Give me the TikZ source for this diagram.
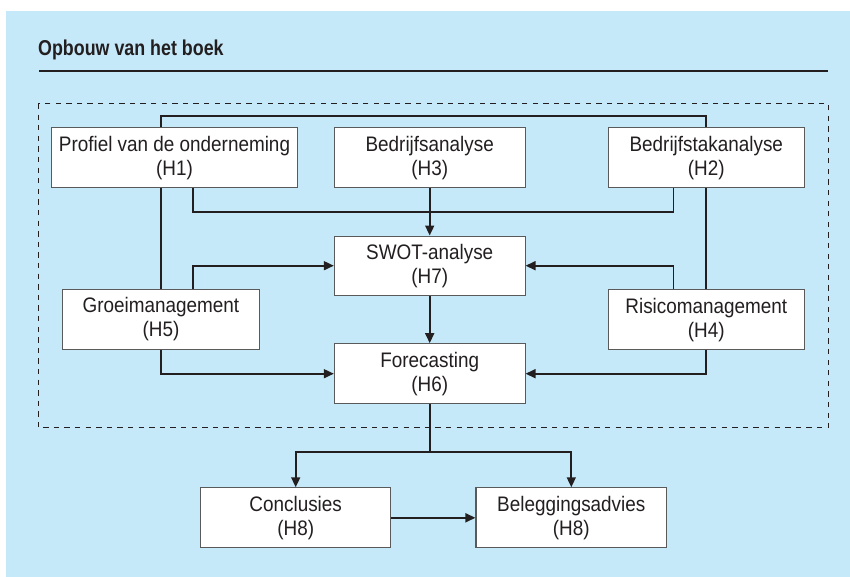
\documentclass[tikz,border=0pt]{standalone}
\usepackage{fontspec}
\setmainfont{Liberation Sans}
\newfontfamily\condfont{Liberation Sans}[FakeStretch=0.9]
\newfontfamily\condbold{Liberation Sans Bold}[FakeStretch=0.83]
\usetikzlibrary{arrows.meta}
\definecolor{bgblue}{RGB}{198,233,249}
\definecolor{ink}{RGB}{35,31,32}
\definecolor{boxline}{RGB}{90,90,90}
\tikzset{
  box/.style={draw=boxline, line width=1.1pt, fill=white, text=ink, align=center,
    minimum height=60pt, inner sep=0pt,
    font=\condfont\fontsize{21}{24}\selectfont},
  conn/.style={draw=ink, line width=1.7pt},
  arr/.style={conn, -{Triangle[length=10pt,width=9pt]}},
}
\begin{document}
\begin{tikzpicture}[x=1pt,y=-1pt]
\useasboundingbox (0,0) rectangle (850,577);
\fill[bgblue] (6,11) rectangle (850,577);
% title and rule
\node[anchor=base west, inner sep=0pt, text=ink, font=\condbold\fontsize{21.5}{24}\selectfont] (title) at (38,56) {Opbouw van het boek};
\draw[ink, line width=2pt] (39,70.7) -- (828,70.7);
% dashed frame
\draw[ink, line width=1pt, dash pattern=on 5.3pt off 5.3pt] (38.3,104) rectangle (828.3,427.7);
% boxes
\node[box, minimum width=245.6pt] (h1) at (174.5,157.7) {Profiel van de onderneming\\(H1)};
\node[box, minimum width=190.7pt] (h3) at (429.7,157.7) {Bedrijfsanalyse\\(H3)};
\node[box, minimum width=196pt] (h2) at (706.3,157.7) {Bedrijfstakanalyse\\(H2)};
\node[box, minimum width=190.7pt, minimum height=59.3pt] (swot) at (429.7,265.7) {SWOT-analyse\\(H7)};
\node[box, minimum width=196.6pt] (h5) at (161,319.5) {Groeimanagement\\(H5)};
\node[box, minimum width=196pt] (h4) at (706.3,319.6) {Risicomanagement\\(H4)};
\node[box, minimum width=190.7pt] (h6) at (429.7,373.7) {Forecasting\\(H6)};
\node[box, minimum width=190pt] (concl) at (295.7,517.8) {Conclusies\\(H8)};
\node[box, minimum width=190.7pt] (beleg) at (571.3,517.8) {Beleggingsadvies\\(H8)};
% helper coordinates
\coordinate (top) at (429.7,116);
\coordinate (lx) at (192.7,211.7);
\coordinate (rx) at (673.5,211.7);
\coordinate (br) at (429.7,451.7);
% connectors
\draw[conn] (h1.north -| h5.north) |- (top) -| (h2.north);
\draw[conn] (h1.south -| h5.north) -- (h5.north);
\draw[conn] (h2.south) -- (h4.north);
\draw[conn] (h1.south -| lx) -- (lx) -- (rx) -- (h2.south -| rx);
\draw[arr] (h3.south) -- (swot.north);
\draw[arr] (h5.north -| lx) |- (swot.west);
\draw[arr] (h4.north -| rx) |- (swot.east);
\draw[arr] (swot.south) -- (h6.north);
\draw[arr] (h5.south) |- (h6.west);
\draw[arr] (h4.south) |- (h6.east);
\draw[conn] (h6.south) -- (br);
\draw[arr] (br) -| (concl.north);
\draw[arr] (br) -| (beleg.north);
\draw[arr] (concl.east) -- (beleg.west);
\end{tikzpicture}
\end{document}
